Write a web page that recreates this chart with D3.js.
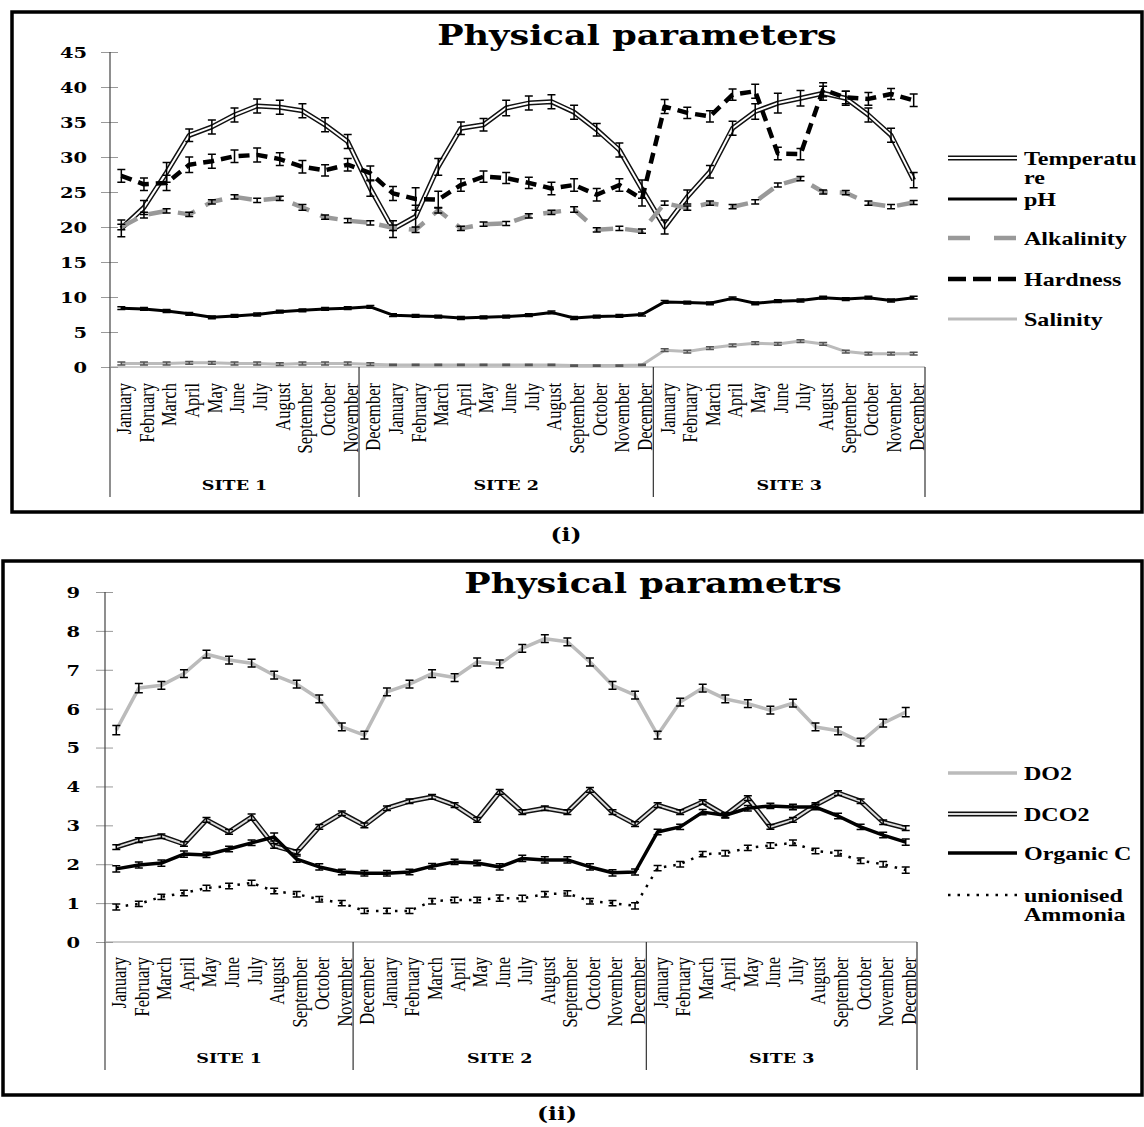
<!DOCTYPE html>
<html>
<head>
<meta charset="utf-8">
<script src="https://cdn.jsdelivr.net/npm/d3@7"></script>
<style>
  body { margin: 0; background: #fff; }
</style>
</head>
<body>
<div id="chart"></div>
<script>
// axis labels (the site groups in the original are shifted: 11 / 13 / 12 months)
const tickLabels = [
  "January", "February", "March", "April", "May", "June", "July", "August", "September", "October", "November",
  "December", "January", "February", "March", "April", "May", "June", "July", "August", "September", "October", "November", "December",
  "January", "February", "March", "April", "May", "June", "July", "August", "September", "October", "November", "December"
];
const sites = ["SITE 1", "SITE 2", "SITE 3"];
const siteCounts = [11, 13, 12];

// (i) physical parameters
const temperature = [19.8, 22.8, 27.8, 33.1, 34.3, 36.0, 37.3, 37.1, 36.6, 34.6, 32.2, 25.5,
  19.7, 21.5, 28.6, 34.1, 34.6, 37.0, 37.7, 37.9, 36.4, 33.9, 31.0, 25.4,
  20.0, 24.3, 27.9, 34.1, 36.5, 37.7, 38.4, 39.1, 38.4, 36.0, 33.1, 26.7];
const temperatureErr = [1.2, 1.0, 1.4, 0.9, 1.0, 1.0, 1.0, 1.0, 1.0, 1.0, 1.0, 1.1,
  1.2, 1.6, 1.2, 0.9, 0.9, 1.1, 1.0, 1.0, 1.0, 0.9, 1.0, 1.3,
  1.0, 1.0, 0.9, 1.0, 1.1, 1.4, 1.1, 1.0, 1.0, 1.0, 1.0, 1.1];
const pH = [8.4, 8.3, 8.0, 7.6, 7.1, 7.3, 7.5, 7.9, 8.1, 8.3, 8.4, 8.6,
  7.4, 7.3, 7.2, 7.0, 7.1, 7.2, 7.4, 7.8, 7.0, 7.2, 7.3, 7.5,
  9.3, 9.2, 9.1, 9.8, 9.1, 9.4, 9.5, 9.9, 9.7, 9.9, 9.5, 9.9];
const pHErr = [0.2, 0.2, 0.2, 0.2, 0.2, 0.2, 0.2, 0.2, 0.2, 0.2, 0.2, 0.2,
  0.2, 0.2, 0.2, 0.2, 0.2, 0.2, 0.2, 0.2, 0.2, 0.2, 0.2, 0.2,
  0.2, 0.2, 0.2, 0.2, 0.2, 0.2, 0.2, 0.2, 0.2, 0.2, 0.2, 0.2];
const alkalinity = [20.0, 21.7, 22.3, 21.8, 23.6, 24.3, 23.8, 24.1, 22.8, 21.4, 20.9, 20.6,
  19.9, 19.6, 22.4, 19.8, 20.4, 20.5, 21.6, 22.1, 22.5, 19.6, 19.8, 19.4,
  23.4, 22.7, 23.4, 22.9, 23.6, 26.0, 26.9, 25.0, 24.9, 23.4, 22.9, 23.5];
const alkalinityErr = [0.4, 0.4, 0.3, 0.3, 0.3, 0.3, 0.3, 0.3, 0.4, 0.3, 0.3, 0.3,
  0.4, 0.4, 0.4, 0.3, 0.3, 0.3, 0.3, 0.3, 0.4, 0.3, 0.3, 0.3,
  0.3, 0.3, 0.3, 0.3, 0.3, 0.3, 0.3, 0.3, 0.3, 0.3, 0.3, 0.3];
const hardness = [27.3, 26.1, 26.3, 28.9, 29.4, 30.1, 30.3, 29.7, 28.6, 28.1, 28.9, 27.7,
  24.8, 24.0, 23.9, 26.0, 27.2, 27.0, 26.3, 25.5, 26.0, 24.6, 26.0, 24.0,
  37.2, 36.3, 35.8, 38.9, 39.4, 30.5, 30.4, 39.6, 38.5, 38.3, 39.0, 38.1];
const hardnessErr = [0.9, 0.9, 1.1, 1.1, 1.0, 0.9, 1.0, 0.9, 0.9, 0.8, 0.9, 1.0,
  1.0, 1.6, 1.2, 0.9, 0.8, 0.8, 0.8, 0.9, 0.9, 0.9, 0.9, 1.0,
  1.0, 0.8, 0.8, 0.8, 1.0, 0.9, 0.8, 1.0, 0.9, 0.9, 0.8, 0.9];
const salinity = [0.5, 0.5, 0.5, 0.6, 0.6, 0.5, 0.5, 0.4, 0.5, 0.5, 0.5, 0.4,
  0.3, 0.3, 0.3, 0.3, 0.3, 0.3, 0.3, 0.3, 0.2, 0.2, 0.2, 0.3,
  2.4, 2.2, 2.7, 3.1, 3.4, 3.3, 3.7, 3.3, 2.2, 1.9, 1.9, 1.9];
const salinityErr = [0.2, 0.2, 0.2, 0.2, 0.2, 0.2, 0.2, 0.2, 0.2, 0.2, 0.2, 0.2,
  0.1, 0.1, 0.1, 0.1, 0.1, 0.1, 0.1, 0.1, 0.1, 0.1, 0.1, 0.1,
  0.2, 0.2, 0.2, 0.2, 0.2, 0.2, 0.2, 0.2, 0.2, 0.2, 0.2, 0.2];

// (ii) second panel
const do2 = [5.45, 6.53, 6.6, 6.9, 7.4, 7.25, 7.17, 6.86, 6.63, 6.25, 5.53, 5.32,
  6.43, 6.63, 6.9, 6.8, 7.2, 7.15, 7.55, 7.8, 7.72, 7.2, 6.6, 6.35,
  5.32, 6.17, 6.53, 6.25, 6.13, 5.96, 6.14, 5.53, 5.43, 5.14, 5.63, 5.91];
const do2Err = [0.12, 0.12, 0.1, 0.1, 0.1, 0.1, 0.1, 0.1, 0.1, 0.1, 0.1, 0.1,
  0.1, 0.1, 0.1, 0.1, 0.1, 0.1, 0.1, 0.1, 0.1, 0.1, 0.1, 0.1,
  0.1, 0.1, 0.1, 0.1, 0.1, 0.1, 0.1, 0.1, 0.1, 0.1, 0.1, 0.12];
const dco2 = [2.44, 2.62, 2.72, 2.52, 3.14, 2.83, 3.21, 2.47, 2.31, 2.96, 3.31, 3.0,
  3.44, 3.62, 3.73, 3.52, 3.14, 3.86, 3.34, 3.44, 3.34, 3.91, 3.34, 3.03,
  3.52, 3.34, 3.6, 3.26, 3.7, 2.96, 3.14, 3.52, 3.83, 3.62, 3.08, 2.93];
const dco2Err = [0.06, 0.06, 0.06, 0.06, 0.06, 0.06, 0.08, 0.06, 0.06, 0.06, 0.06, 0.06,
  0.06, 0.06, 0.06, 0.06, 0.06, 0.06, 0.06, 0.06, 0.06, 0.06, 0.06, 0.06,
  0.06, 0.06, 0.06, 0.06, 0.06, 0.06, 0.06, 0.06, 0.06, 0.06, 0.06, 0.06];
const organicC = [1.88, 1.98, 2.03, 2.26, 2.24, 2.39, 2.55, 2.7, 2.13, 1.93, 1.8, 1.77,
  1.77, 1.8, 1.95, 2.06, 2.03, 1.93, 2.15, 2.11, 2.11, 1.93, 1.78, 1.8,
  2.83, 2.96, 3.34, 3.26, 3.44, 3.5, 3.47, 3.47, 3.24, 2.96, 2.75, 2.57];
const organicCErr = [0.08, 0.08, 0.08, 0.08, 0.07, 0.07, 0.07, 0.1, 0.08, 0.08, 0.07, 0.07,
  0.07, 0.07, 0.07, 0.07, 0.07, 0.08, 0.08, 0.08, 0.08, 0.08, 0.08, 0.08,
  0.07, 0.07, 0.07, 0.07, 0.07, 0.07, 0.07, 0.07, 0.07, 0.07, 0.07, 0.08];
const ammonia = [0.9, 0.98, 1.16, 1.26, 1.39, 1.44, 1.52, 1.31, 1.23, 1.1, 1.0, 0.8,
  0.8, 0.8, 1.05, 1.08, 1.08, 1.13, 1.12, 1.23, 1.25, 1.05, 1.0, 0.93,
  1.9, 2.0, 2.26, 2.28, 2.42, 2.48, 2.55, 2.34, 2.28, 2.09, 2.0, 1.85];
const ammoniaErr = [0.08, 0.07, 0.07, 0.07, 0.07, 0.07, 0.07, 0.07, 0.07, 0.07, 0.07, 0.07,
  0.07, 0.07, 0.07, 0.07, 0.07, 0.08, 0.08, 0.07, 0.07, 0.07, 0.07, 0.08,
  0.07, 0.07, 0.07, 0.07, 0.07, 0.07, 0.07, 0.07, 0.07, 0.07, 0.07, 0.08];

const SX = 1.3;   // the original picture is stretched sideways
const serif = '"Liberation Serif", "Times New Roman", serif';
const wideSerif = '"DejaVu Serif", serif';

const svg = d3.select("#chart")
  .append("svg")
  .attr("width", 1144)
  .attr("height", 1127);

function stext(g, x, y, str, size, family, anchor) {
  return g.append("text")
    .attr("transform", `translate(${x},${y}) scale(${SX},1)`)
    .attr("text-anchor", anchor || "start")
    .style("font-family", family)
    .style("font-size", size + "px")
    .style("font-weight", "bold")
    .text(str);
}

function strokePath(g, d, st) {
  if (st.double) {
    g.append("path").attr("d", d).attr("fill", "none")
      .attr("stroke", "#111").attr("stroke-width", 5).attr("stroke-linejoin", "round");
    g.append("path").attr("d", d).attr("fill", "none")
      .attr("stroke", st.inner).attr("stroke-width", 2).attr("stroke-linejoin", "round");
  } else {
    g.append("path").attr("d", d).attr("fill", "none")
      .attr("stroke", st.stroke).attr("stroke-width", st.width)
      .attr("stroke-dasharray", st.dash || null)
      .attr("stroke-linejoin", "round");
  }
}

function drawPanel(p) {
  const g = svg.append("g");

  g.append("rect")
    .attr("x", p.frame[0]).attr("y", p.frame[1])
    .attr("width", p.frame[2] - p.frame[0]).attr("height", p.frame[3] - p.frame[1])
    .attr("fill", "none").attr("stroke", "#000").attr("stroke-width", 3.5);

  const x = d3.scaleBand().domain(d3.range(tickLabels.length)).range([p.x0, p.x1]);
  const cx = i => x(i) + x.bandwidth() / 2;
  const y = d3.scaleLinear().domain([0, p.yMax]).range([p.yBottom, p.yTop]);

  // Y axis
  const yAxis = g.append("g")
    .attr("transform", `translate(${p.x0},0)`)
    .call(d3.axisLeft(y).tickValues(p.yTicks).tickSize(9).tickSizeOuter(0));
  yAxis.select(".domain").remove();
  yAxis.selectAll("line").attr("x1", 8).attr("stroke", "#999");
  yAxis.selectAll("text")
    .attr("x", null).attr("dy", "0.36em")
    .attr("transform", `translate(${p.labelDx},0) scale(${SX},1)`)
    .style("font-family", wideSerif)
    .style("font-size", "15px")
    .style("font-weight", "bold")
    .attr("fill", "#000");
  g.append("line")
    .attr("x1", p.x0).attr("x2", p.x0).attr("y1", p.yTop).attr("y2", p.sepBottom)
    .attr("stroke", "#444").attr("stroke-width", 1.2);

  // X axis with month labels
  const xAxis = g.append("g")
    .attr("transform", `translate(0,${p.yBottom})`)
    .call(d3.axisBottom(x).tickFormat(i => tickLabels[i]).tickSize(0));
  xAxis.select(".domain").remove();
  xAxis.selectAll("text")
    .attr("transform", `scale(${SX},1) rotate(-90)`)
    .attr("x", -(p.monthTop - p.yBottom))
    .attr("y", 7.6)
    .attr("dy", null)
    .attr("text-anchor", "end")
    .style("font-family", serif)
    .style("font-size", "16.5px")
    .attr("fill", "#000");
  g.append("line")
    .attr("x1", p.x0).attr("x2", p.x1).attr("y1", p.yBottom).attr("y2", p.yBottom)
    .attr("stroke", "#999").attr("stroke-width", 1.2);

  // site groups
  const bounds = [0];
  siteCounts.forEach(n => bounds.push(bounds[bounds.length - 1] + n));
  bounds.forEach((b, k) => {
    const bx = b < tickLabels.length ? x(b) : p.x1;
    if (k > 0) {
      g.append("line")
        .attr("x1", bx).attr("x2", bx).attr("y1", p.yBottom).attr("y2", p.sepBottom)
        .attr("stroke", "#333").attr("stroke-width", 1.2);
    }
  });
  sites.forEach((s, k) => {
    const a = x(bounds[k]);
    const b = bounds[k + 1] < tickLabels.length ? x(bounds[k + 1]) : p.x1;
    stext(g, (a + b) / 2, p.siteY, s, 13.5, wideSerif, "middle");
  });

  // series
  const line = d3.line().x((d, i) => cx(i)).y(d => y(d));
  p.series.forEach(s => {
    const sg = g.append("g");
    strokePath(sg, line(s.values), s.style);
    s.values.forEach((v, i) => {
      const e = s.err[i];
      const px = cx(i);
      sg.append("path")
        .attr("d", `M${px},${y(v - e)}V${y(v + e)}M${px - 4},${y(v - e)}h8M${px - 4},${y(v + e)}h8`)
        .attr("fill", "none")
        .attr("stroke", s.errColor || "#000")
        .attr("stroke-width", 1.5);
    });
  });

  // legend
  p.series.forEach((s, k) => {
    const ly = p.legendY[k];
    const st = Object.assign({}, s.style, { dash: s.style.legendDash || s.style.dash });
    strokePath(g, `M${p.legendX},${ly}H${p.legendX + 69}`, st);
    s.label.forEach((t, j) => {
      stext(g, p.legendX + 76, ly + 7 + j * 19, t, 18.5, serif, "start");
    });
  });

  // title and tag
  stext(g, p.titleX, p.titleY, p.title, 27, wideSerif, "middle");
  stext(g, p.tagX, p.tagY, p.tag, 18, wideSerif, "middle");
}

drawPanel({
  frame: [12, 12, 1142, 512],
  x0: 110, x1: 925, yTop: 52, yBottom: 367, yMax: 45,
  yTicks: [0, 5, 10, 15, 20, 25, 30, 35, 40, 45],
  labelDx: -23, sepBottom: 497, siteY: 490, monthTop: 383,
  title: "Physical parameters", titleX: 637, titleY: 45,
  tag: "(i)", tagX: 566, tagY: 541,
  legendX: 948, legendY: [158, 199, 238, 279, 319],
  series: [
    { label: ["Temperatu", "re"], values: temperature, err: temperatureErr,
      style: { double: true, inner: "#fff" } },
    { label: ["pH"], values: pH, err: pHErr,
      style: { stroke: "#000", width: 3 } },
    { label: ["Alkalinity"], values: alkalinity, err: alkalinityErr,
      style: { stroke: "#999", width: 4.5, dash: "18,12", legendDash: "22,24" } },
    { label: ["Hardness"], values: hardness, err: hardnessErr,
      style: { stroke: "#000", width: 4.5, dash: "11,7", legendDash: "18,7" } },
    { label: ["Salinity"], values: salinity, err: salinityErr, errColor: "#555",
      style: { stroke: "#bbb", width: 3 } }
  ]
});

drawPanel({
  frame: [3, 561, 1142, 1095],
  x0: 105, x1: 917, yTop: 592, yBottom: 942, yMax: 9,
  yTicks: [0, 1, 2, 3, 4, 5, 6, 7, 8, 9],
  labelDx: -25, sepBottom: 1070, siteY: 1063, monthTop: 957,
  title: "Physical parametrs", titleX: 653, titleY: 593,
  tag: "(ii)", tagX: 557, tagY: 1120,
  legendX: 948, legendY: [773, 814, 853, 895],
  series: [
    { label: ["DO2"], values: do2, err: do2Err,
      style: { stroke: "#bbb", width: 3.5 } },
    { label: ["DCO2"], values: dco2, err: dco2Err,
      style: { double: true, inner: "#ddd" } },
    { label: ["Organic C"], values: organicC, err: organicCErr,
      style: { stroke: "#000", width: 3.5 } },
    { label: ["unionised", "Ammonia"], values: ammonia, err: ammoniaErr,
      style: { stroke: "#000", width: 2.5, dash: "2.5,7" } }
  ]
});
</script>
</body>
</html>
